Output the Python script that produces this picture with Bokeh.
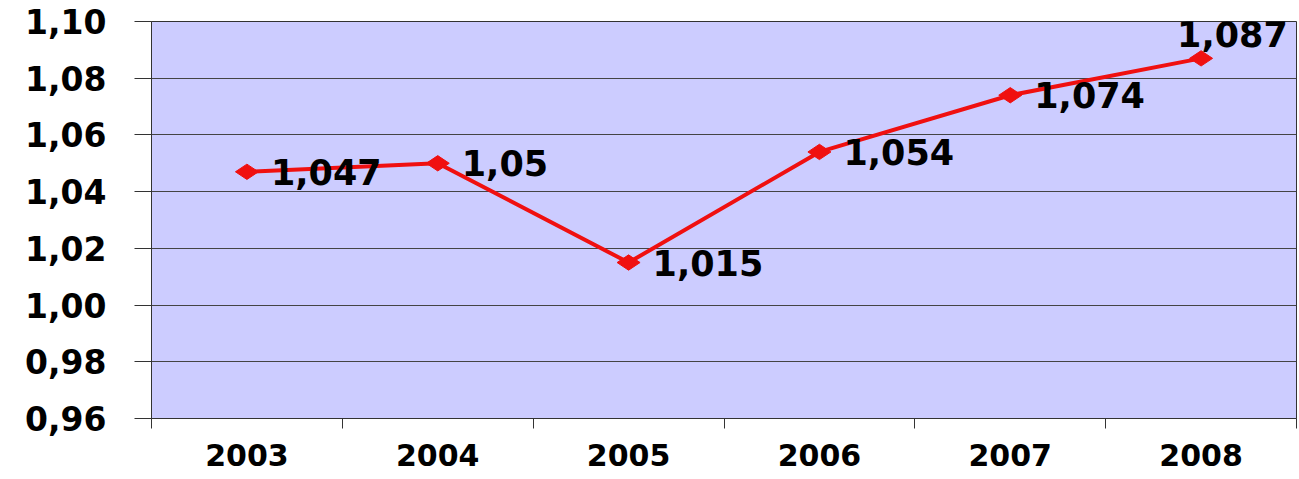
from math import pi

from bokeh.core.properties import value
from bokeh.embed import file_html
from bokeh.models import ColumnDataSource, FixedTicker, Range1d
from bokeh.plotting import figure
from bokeh.resources import INLINE

# Yearly index values
years = ["2003", "2004", "2005", "2006", "2007", "2008"]
values = [1.047, 1.05, 1.015, 1.054, 1.074, 1.087]
labels = ["1,047", "1,05", "1,015", "1,054", "1,074", "1,087"]

y_ticks = [0.96, 0.98, 1.00, 1.02, 1.04, 1.06, 1.08, 1.10]
y_tick_labels = ["0,96", "0,98", "1,00", "1,02", "1,04", "1,06", "1,08", "1,10"]

FONT = "DejaVu Sans"

# categories sit at the middle of unit-wide slots
x_pos = [i + 0.5 for i in range(len(years))]
# label placement (pixels) relative to each point
lbl_dx = [24, 24, 24, 24, 24, -24]
lbl_dy = [0, 0, 0, 0, 0, -24]

src = ColumnDataSource(dict(x=x_pos, y=values, text=labels, dx=lbl_dx, dy=lbl_dy))

p = figure(
    width=1299, height=479,
    x_range=Range1d(0, len(years)), y_range=Range1d(0.96, 1.10),
    output_backend="svg", toolbar_location=None,
    min_border_left=151, min_border_right=3, min_border_top=21, min_border_bottom=61,
)
p.background_fill_color = "#CCCCFF"
p.border_fill_color = "white"
p.outline_line_color = "#333333"
p.outline_line_width = 1

# y axis
p.yaxis.ticker = FixedTicker(ticks=y_ticks)
p.yaxis.major_label_overrides = {t: s for t, s in zip(y_ticks, y_tick_labels)}
p.yaxis.major_tick_out = 17
p.yaxis.major_tick_in = 0
p.yaxis.minor_tick_line_color = None
p.yaxis.axis_line_color = "#333333"
p.yaxis.major_tick_line_color = "#333333"
p.yaxis.major_label_text_font = FONT
p.yaxis.major_label_text_font_style = "bold"
p.yaxis.major_label_text_font_size = "33px"
p.yaxis.major_label_text_color = "black"
p.yaxis.major_label_standoff = 28

# x axis: labels at slot centres, tick marks at slot boundaries
p.xaxis.ticker = FixedTicker(ticks=x_pos, minor_ticks=list(range(len(years) + 1)))
p.xaxis.major_label_overrides = {x: y for x, y in zip(x_pos, years)}
p.xaxis.major_tick_out = 0
p.xaxis.major_tick_in = 0
p.xaxis.minor_tick_out = 10
p.xaxis.minor_tick_in = 0
p.xaxis.minor_tick_line_color = "#333333"
p.xaxis.axis_line_color = "#333333"
p.xaxis.major_label_text_font = FONT
p.xaxis.major_label_text_font_style = "bold"
p.xaxis.major_label_text_font_size = "30px"
p.xaxis.major_label_text_color = "black"
p.xaxis.major_label_standoff = 15

p.xgrid.grid_line_color = None
p.ygrid.ticker = FixedTicker(ticks=y_ticks)
p.ygrid.grid_line_color = "#444444"
p.ygrid.grid_line_width = 1

p.line("x", "y", source=src, line_color="#F01010", line_width=4)
p.scatter("x", "y", source=src, marker="diamond", size=23, angle=pi / 2,
          fill_color="#F01010", line_color="#F01010")

p.text("x", "y", text="text", source=src, x_offset="dx", y_offset="dy",
       text_font=value(FONT), text_font_style="bold", text_font_size="35px",
       text_color="black", text_baseline="middle", text_align="left")

open("out.html", "w").write(file_html(p, INLINE))
